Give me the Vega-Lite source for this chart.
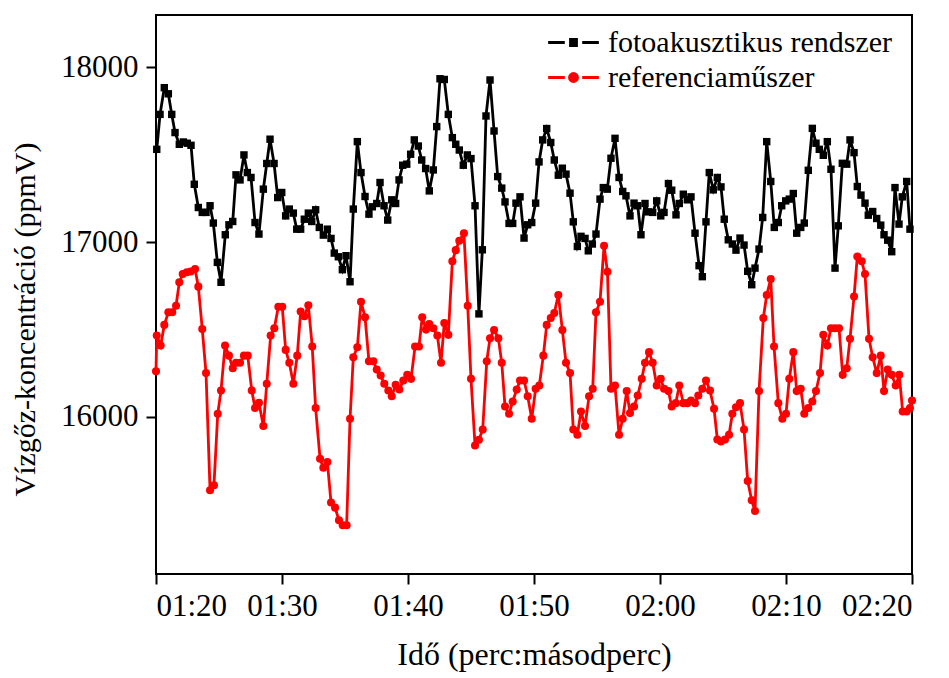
{
  "$schema": "https://vega.github.io/schema/vega-lite/v6.json",
  "autosize": {"type": "none"},
  "padding": {"left": 156, "top": 15, "right": 37, "bottom": 104},
  "width": 756,
  "height": 559,
  "background": "white",
  "datasets": {
    "foto": [
      [80.06,17531],[80.32,17731],[80.66,17884],[80.98,17849],[81.25,17731],[81.51,17627],[81.85,17560],[82.17,17573],[82.48,17566],[82.78,17554],
      [83.04,17331],[83.36,17198],[83.67,17170],[83.97,17170],[84.29,17208],[84.55,17109],[84.87,16884],[85.16,16770],[85.50,17042],[85.79,17099],
      [86.09,17118],[86.35,17385],[86.67,17356],[86.98,17499],[87.25,17398],[87.54,17370],[87.86,17112],[88.17,17046],[88.52,17303],[88.79,17450],
      [89.05,17589],[89.37,17450],[89.66,17255],[89.98,17284],[90.29,17150],[90.58,17189],[90.90,17166],[91.17,17074],[91.48,17074],[91.77,17131],
      [92.09,17166],[92.36,17118],[92.67,17185],[92.96,17084],[93.28,17040],[93.60,17074],[93.89,17021],[94.15,16937],[94.47,16916],[94.79,16842],
      [95.08,16922],[95.40,16773],[95.66,17189],[95.98,17575],[96.27,17398],[96.59,17261],[96.90,17160],[97.17,17202],[97.52,17221],[97.78,17341],
      [98.10,17208],[98.39,17126],[98.71,17242],[99.02,17221],[99.29,17356],[99.58,17440],[99.90,17446],[100.21,17503],[100.50,17585],[100.82,17550],
      [101.09,17470],[101.40,17421],[101.69,17293],[102.01,17413],[102.28,17661],[102.54,17935],[102.88,17931],[103.20,17731],[103.52,17598],[103.79,17560],
      [104.07,17527],[104.39,17440],[104.71,17499],[105.00,17478],[105.32,17208],[105.63,16589],[105.90,16956],[106.19,17722],[106.51,17928],[106.83,17636],
      [107.12,17375],[107.44,17309],[107.70,17230],[108.02,17107],[108.31,17107],[108.57,17223],[108.89,17259],[109.21,17023],[109.50,17099],[109.82,17112],
      [110.13,17223],[110.40,17459],[110.69,17585],[111.01,17650],[111.33,17570],[111.61,17470],[111.93,17383],[112.25,17423],[112.54,17389],[112.86,17280],
      [113.12,17116],[113.44,16975],[113.73,17033],[114.05,17021],[114.31,16950],[114.63,16989],[114.92,17046],[115.24,17246],[115.50,17312],[115.82,17303],
      [116.11,17480],[116.43,17594],[116.75,17370],[117.04,17290],[117.30,17265],[117.62,17150],[117.94,17223],[118.23,17208],[118.49,17042],[118.81,17221],
      [119.07,17173],[119.42,17170],[119.74,17236],[120.06,17150],[120.32,17170],[120.67,17335],[120.93,17297],[121.27,17156],[121.53,17221],[121.85,17274],
      [122.17,17242],[122.46,17259],[122.78,17051],[123.10,16865],[123.36,16802],[123.65,17116],[123.91,17398],[124.23,17299],[124.55,17370],[124.84,17316],
      [125.10,17131],[125.42,17013],[125.74,16989],[126.03,16954],[126.35,17023],[126.67,16983],[126.96,16833],[127.28,16756],[127.54,16851],[127.86,16960],
      [128.15,17141],[128.47,17575],[128.79,17347],[129.07,17084],[129.39,17112],[129.66,17208],[129.98,17236],[130.26,17246],[130.58,17278],[130.85,17051],
      [131.17,17084],[131.45,17109],[131.77,17411],[132.09,17651],[132.38,17566],[132.64,17531],[132.96,17497],[133.28,17575],[133.57,17417],[133.89,16851],
      [134.15,17093],[134.47,17451],[134.82,17446],[135.08,17585],[135.40,17512],[135.66,17318],[135.95,17269],[136.27,17223],[136.53,17154],[136.88,17175],
      [137.20,17135],[137.52,17097],[137.78,17042],[138.07,17011],[138.39,16945],[138.65,17312],[138.97,17103],[139.23,17259],[139.58,17347],[139.84,17074]
    ],
    "ref": [
      [80.0,16260],[80.06,16465],[80.37,16408],[80.66,16526],[80.98,16598],[81.29,16598],[81.59,16636],[81.85,16770],[82.12,16817],[82.44,16827],
      [82.75,16832],[83.10,16846],[83.36,16745],[83.67,16503],[83.97,16250],[84.29,15579],[84.60,15608],[84.90,16017],[85.16,16150],[85.48,16408],
      [85.79,16350],[86.09,16278],[86.35,16309],[86.67,16309],[86.98,16350],[87.28,16350],[87.60,16150],[87.86,16050],[88.17,16080],[88.52,15947],
      [88.79,16189],[89.10,16465],[89.39,16507],[89.71,16630],[90.02,16630],[90.29,16383],[90.58,16309],[90.90,16189],[91.21,16350],[91.48,16602],
      [91.77,16575],[92.09,16638],[92.40,16402],[92.67,16050],[93.02,15760],[93.28,15708],[93.60,15741],[93.89,15509],[94.21,15480],[94.52,15408],
      [94.82,15379],[95.13,15379],[95.40,15989],[95.66,16341],[95.98,16398],[96.27,16659],[96.59,16570],[96.90,16318],[97.25,16318],[97.52,16270],
      [97.83,16236],[98.12,16189],[98.44,16150],[98.71,16118],[99.02,16183],[99.31,16156],[99.63,16208],[99.94,16240],[100.24,16217],[100.56,16402],
      [100.87,16402],[101.13,16570],[101.43,16499],[101.69,16531],[102.01,16507],[102.33,16465],[102.62,16309],[102.88,16537],[103.20,16469],[103.52,16890],
      [103.79,16954],[104.07,17008],[104.44,17050],[104.74,16636],[105.00,16217],[105.32,15836],[105.63,15869],[105.93,15927],[106.25,16318],[106.51,16450],
      [106.83,16497],[107.17,16450],[107.44,16309],[107.70,16059],[108.02,16017],[108.31,16088],[108.63,16156],[108.89,16208],[109.21,16208],[109.50,16118],
      [109.82,15989],[110.13,16160],[110.42,16179],[110.74,16350],[111.01,16526],[111.33,16566],[111.61,16594],[111.93,16697],[112.25,16497],[112.54,16309],
      [112.86,16250],[113.12,15927],[113.44,15897],[113.73,16030],[114.05,15947],[114.37,16118],[114.66,16160],[114.92,16598],[115.24,16659],[115.56,16979],
      [115.83,16830],[116.11,16160],[116.43,16179],[116.75,15897],[117.04,15989],[117.36,16147],[117.62,16021],[117.94,16059],[118.23,16122],[118.55,16217],
      [118.81,16309],[119.13,16370],[119.42,16309],[119.74,16179],[120.06,16217],[120.32,16160],[120.67,16147],[120.93,16059],[121.25,16078],[121.53,16179],
      [121.85,16078],[122.17,16078],[122.46,16093],[122.78,16078],[123.04,16122],[123.36,16160],[123.65,16208],[123.97,16150],[124.29,16046],[124.55,15870],
      [124.84,15859],[125.16,15870],[125.48,15897],[125.74,16017],[126.03,16055],[126.35,16078],[126.67,15927],[126.96,15632],[127.28,15522],[127.54,15461],
      [127.86,16147],[128.20,16566],[128.47,16697],[128.79,16789],[129.05,16402],[129.39,16078],[129.71,15989],[130.00,16017],[130.26,16217],[130.58,16370],
      [130.85,16147],[131.17,16160],[131.45,16017],[131.77,16050],[132.09,16088],[132.38,16147],[132.70,16250],[132.96,16469],[133.28,16408],[133.57,16507],
      [133.89,16507],[134.21,16507],[134.50,16240],[134.82,16278],[135.08,16446],[135.40,16688],[135.66,16918],[136.01,16890],[136.27,16817],[136.59,16446],
      [136.88,16341],[137.20,16250],[137.52,16350],[137.78,16147],[138.07,16270],[138.39,16240],[138.71,16179],[138.99,16240],[139.26,16030],[139.58,16030],
      [139.84,16050],[140.0,16093]
    ]
  },
  "layer": [
    {
      "data": {"name": "foto"},
      "transform": [{"calculate": "'foto'", "as": "series"}, {"calculate": "datum[0]", "as": "t"}, {"calculate": "datum[1]", "as": "v"}],
      "layer": [
        {"mark": {"type": "line", "strokeWidth": 2.8}, "encoding": {}},
        {"mark": {"type": "point", "shape": "square", "filled": true, "size": 55, "opacity": 1}, "encoding": {}}
      ]
    },
    {
      "data": {"name": "ref"},
      "transform": [{"calculate": "'ref'", "as": "series"}, {"calculate": "datum[0]", "as": "t"}, {"calculate": "datum[1]", "as": "v"}],
      "layer": [
        {"mark": {"type": "line", "strokeWidth": 2.8}, "encoding": {}},
        {"mark": {"type": "point", "shape": "circle", "filled": true, "size": 65, "opacity": 1}, "encoding": {}}
      ]
    }
  ],
  "encoding": {
    "x": {
      "field": "t", "type": "quantitative",
      "scale": {"domain": [80, 140], "nice": false, "zero": false},
      "axis": {
        "title": "Idő (perc:másodperc)",
        "values": [80, 90, 100, 110, 120, 130, 140],
        "labelExpr": "'0' + floor(datum.value / 60) + ':' + (datum.value % 60 < 10 ? '0' : '') + (datum.value % 60)",
        "labelPadding": 7,
        "titleFontSize": 32,
        "titlePadding": 18
      }
    },
    "y": {
      "field": "v", "type": "quantitative",
      "scale": {"domain": [15100, 18300], "nice": false, "zero": false},
      "axis": {
        "title": "Vízgőz-koncentráció (ppmV)",
        "values": [16000, 17000, 18000],
        "format": "d",
        "labelPadding": 8,
        "titlePadding": 20,
        "titleY": 304
      }
    },
    "color": {
      "field": "series", "type": "nominal",
      "scale": {"domain": ["foto", "ref"], "range": ["#000000", "#ff0000"]},
      "legend": {
        "title": null,
        "orient": "none",
        "legendX": 401,
        "legendY": 11,
        "padding": 0,
        "labelExpr": "datum.value == 'foto' ? 'fotoakusztikus rendszer' : 'referenciaműszer'",
        "labelFont": "Liberation Serif",
        "labelFontSize": 30,
        "labelColor": "black",
        "labelLimit": 0,
        "labelOffset": 18,
        "symbolSize": 900,
        "symbolStrokeWidth": 2.8,
        "rowPadding": 3,
        "encode": {
          "symbols": {
            "update": {
              "shape": {"signal": "datum.value == 'foto' ? 'M-1.69,0H-0.58M0.58,0H1.69M-0.2,-0.2H0.2V0.2H-0.2Z' : 'M-1.69,0H-0.58M0.58,0H1.69M0.27,0A0.27,0.27 0 1,1 -0.27,0A0.27,0.27 0 1,1 0.27,0Z'"},
              "fill": {"signal": "datum.value == 'foto' ? '#000000' : '#ff0000'"},
              "stroke": {"signal": "datum.value == 'foto' ? '#000000' : '#ff0000'"},
              "strokeWidth": {"value": 2.8},
              "opacity": {"value": 1}
            }
          }
        }
      }
    }
  },
  "config": {
    "font": "Liberation Serif",
    "view": {"stroke": "#000000", "strokeWidth": 2},
    "axis": {
      "domain": false,
      "grid": false,
      "ticks": true,
      "tickColor": "#000000",
      "tickWidth": 2,
      "tickSize": 10,
      "labelColor": "#000000",
      "titleColor": "#000000",
      "labelFont": "Liberation Serif",
      "titleFont": "Liberation Serif",
      "labelFontSize": 31,
      "titleFontSize": 30,
      "titleFontWeight": "normal"
    }
  }
}
